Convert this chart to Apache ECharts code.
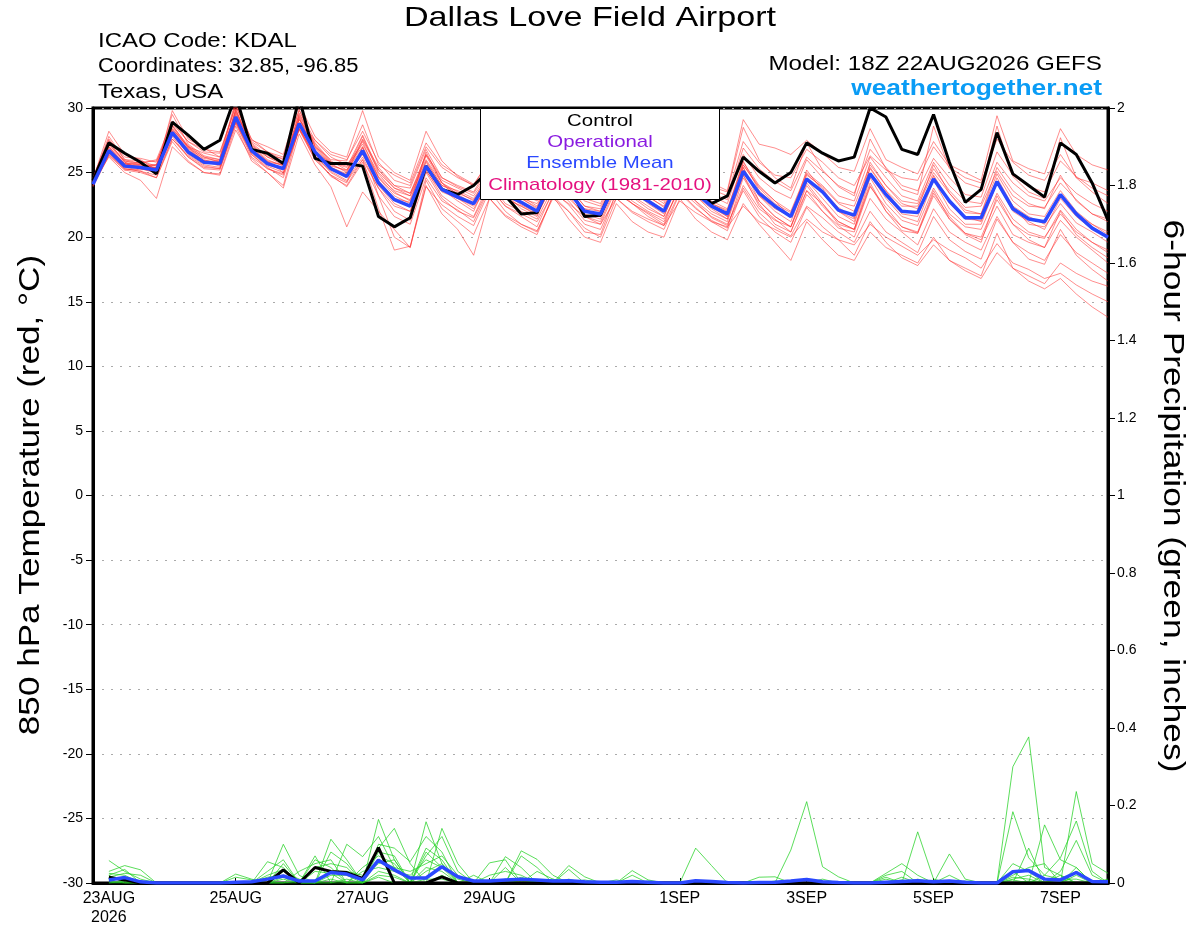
<!DOCTYPE html>
<html>
<head>
<meta charset="utf-8">
<title>Dallas Love Field Airport - GEFS</title>
<script src="https://cdn.jsdelivr.net/npm/echarts@6/dist/echarts.min.js"></script>
<style>
  html, body { margin: 0; padding: 0; background: #fff; }
  #chart { width: 1200px; height: 927px; }
</style>
</head>
<body>
<div id="chart"></div>
<script>
// 65 six-hourly steps, 18Z 22AUG2026 .. 18Z 07SEP2026
const stepCount = 65;
const tickIndex = [1, 9, 17, 25, 37, 45, 53, 61];
const tickText = ["23AUG\n2026", "25AUG", "27AUG", "29AUG", "1SEP", "3SEP", "5SEP", "7SEP"];

// 850 hPa temperature, deg C
const tempControl = [24.4,
  27.3, 26.5, 25.8, 24.9, 28.9, 27.9, 26.8, 27.5, 31.0, 26.8, 26.5, 25.7, 30.8, 26.1, 25.7, 25.7,
  25.5, 21.6, 20.8, 21.5, 25.5, 23.7, 23.3, 24.0, 25.2, 23.2, 21.8, 21.9, 24.8, 24.0, 21.6, 21.7,
  24.6, 23.4, 23.2, 23.4, 25.0, 23.8, 22.6, 23.2, 26.2, 25.1, 24.2, 25.0, 27.3, 26.5, 25.9, 26.2,
  30.0, 29.3, 26.8, 26.4, 29.5, 25.8, 22.7, 23.7, 28.1, 24.9, 24.0, 23.1, 27.3, 26.4, 24.2, 21.3];
const tempMean = [24.1,
  26.7, 25.5, 25.4, 25.2, 28.1, 26.6, 25.8, 25.7, 29.3, 26.7, 25.7, 25.3, 28.8, 26.6, 25.3, 24.7,
  26.7, 24.2, 22.9, 22.4, 25.5, 23.7, 23.1, 22.6, 24.6, 23.3, 22.7, 22.0, 24.5, 23.5, 22.0, 21.8,
  24.3, 23.5, 22.8, 22.0, 24.5, 23.4, 22.4, 21.8, 25.1, 23.4, 22.4, 21.6, 24.5, 23.5, 22.1, 21.7,
  24.9, 23.3, 22.0, 21.9, 24.5, 22.8, 21.5, 21.5, 24.3, 22.2, 21.4, 21.2, 23.3, 21.8, 20.7, 20.0];

const tempM01 = [24.5,
  27.8, 26.0, 25.9, 25.5, 29.5, 27.2, 26.3, 26.0, 30.4, 27.1, 26.2, 25.6, 29.6, 27.3, 25.9, 25.2,
  27.8, 25.0, 23.8, 23.4, 26.4, 24.6, 24.0, 23.5, 25.6, 24.3, 23.5, 22.9, 25.4, 24.4, 23.0, 22.6,
  25.2, 24.2, 23.6, 23.0, 25.6, 24.5, 23.4, 22.9, 26.9, 25.3, 24.3, 23.6, 26.2, 25.1, 24.0, 23.4,
  26.8, 25.4, 24.0, 23.6, 26.1, 24.6, 23.3, 23.1, 26.6, 24.8, 23.9, 23.5, 25.9, 24.7, 23.8, 23.2];
const tempM02 = [24.0,
  26.4, 25.3, 25.1, 24.8, 27.6, 26.2, 25.4, 25.3, 28.9, 26.4, 25.3, 24.9, 28.3, 26.0, 24.8, 23.9,
  25.8, 23.2, 21.6, 21.0, 24.6, 22.8, 22.1, 21.2, 23.8, 22.4, 21.6, 20.8, 23.6, 22.5, 21.0, 20.6,
  23.4, 22.6, 21.6, 20.9, 23.5, 22.3, 21.2, 20.5, 23.8, 21.9, 20.8, 20.1, 22.4, 21.5, 20.4, 19.6,
  22.0, 20.4, 19.6, 18.8, 21.6, 19.8, 18.9, 18.3, 21.4, 19.6, 18.3, 17.9, 20.6, 18.6, 17.5, 16.6];
const tempM03 = [24.3,
  27.0, 25.6, 25.8, 25.9, 28.4, 27.0, 26.5, 26.2, 29.6, 27.4, 26.6, 26.0, 29.1, 27.5, 26.2, 25.6,
  27.2, 24.9, 23.5, 22.8, 25.9, 24.0, 23.6, 23.0, 24.8, 23.6, 23.2, 22.4, 24.9, 23.9, 22.4, 22.2,
  24.8, 23.8, 23.1, 22.4, 24.9, 23.7, 22.8, 22.2, 25.6, 23.9, 22.8, 22.0, 25.0, 24.0, 22.7, 22.4,
  25.6, 24.0, 22.8, 22.6, 25.3, 23.6, 22.3, 22.4, 25.1, 23.2, 22.4, 22.3, 24.2, 22.9, 21.8, 21.2];
const tempM04 = [24.2,
  26.2, 25.0, 24.4, 23.0, 27.0, 25.8, 25.0, 24.9, 28.6, 25.9, 25.0, 23.8, 28.0, 25.6, 23.9, 20.8,
  23.5, 22.0, 20.6, 19.2, 23.9, 22.5, 21.6, 20.9, 23.6, 22.0, 21.0, 20.5, 23.0, 22.0, 20.7, 20.0,
  23.0, 21.9, 21.2, 20.6, 23.4, 22.2, 21.3, 20.7, 24.6, 22.6, 21.0, 20.4, 23.3, 22.0, 20.7, 20.4,
  23.9, 22.3, 20.8, 20.3, 23.2, 21.4, 20.3, 20.0, 22.9, 21.0, 20.2, 19.9, 22.1, 20.6, 19.6, 19.0];
const tempM05 = [24.6,
  27.5, 26.2, 26.1, 25.8, 28.8, 27.4, 26.6, 26.5, 30.2, 27.3, 26.3, 26.1, 29.9, 27.0, 26.0, 25.9,
  28.7, 25.6, 24.8, 24.2, 27.3, 25.6, 24.8, 24.1, 25.9, 24.6, 24.2, 23.7, 26.0, 25.0, 23.6, 23.3,
  25.8, 24.8, 24.1, 23.4, 26.0, 24.9, 24.2, 23.6, 29.1, 27.2, 26.9, 26.4, 27.5, 26.5, 25.4, 25.1,
  28.4, 26.0, 25.4, 24.9, 27.4, 25.6, 25.0, 24.4, 29.4, 25.9, 25.3, 24.9, 28.4, 26.4, 25.6, 25.2];
const tempM06 = [24.0,
  26.6, 25.7, 25.3, 25.0, 28.0, 26.4, 25.6, 25.4, 29.0, 26.5, 25.5, 25.0, 28.4, 26.3, 25.0, 24.3,
  26.0, 23.8, 22.0, 21.3, 25.0, 23.0, 22.0, 21.5, 23.9, 22.4, 21.8, 21.2, 23.4, 22.6, 21.6, 21.0,
  23.0, 22.0, 21.4, 20.9, 22.8, 21.9, 21.2, 20.8, 22.4, 21.2, 20.6, 20.0, 21.4, 20.4, 19.8, 19.4,
  21.0, 20.0, 19.3, 18.6, 19.8, 19.0, 18.4, 17.6, 19.5, 18.0, 17.5, 16.8, 17.2, 16.3, 15.6, 15.0];
const tempM07 = [24.3,
  26.9, 25.7, 25.6, 25.6, 28.3, 26.9, 25.9, 25.9, 29.5, 26.8, 25.8, 25.6, 29.1, 26.9, 25.5, 25.2,
  26.9, 24.6, 23.4, 22.9, 26.3, 24.2, 23.5, 22.8, 25.2, 23.6, 23.0, 22.3, 24.9, 23.8, 22.0, 21.8,
  24.6, 23.6, 22.9, 22.1, 25.1, 23.9, 22.6, 22.1, 25.9, 23.6, 22.5, 21.5, 25.2, 23.6, 22.3, 21.5,
  25.4, 23.6, 22.0, 22.0, 24.7, 22.6, 21.4, 21.3, 24.6, 22.4, 21.0, 20.8, 22.6, 21.1, 20.4, 19.6];
const tempM08 = [23.9,
  26.3, 25.2, 25.0, 24.6, 27.4, 25.9, 25.0, 24.8, 28.3, 26.1, 25.0, 24.0, 28.5, 26.2, 24.7, 24.0,
  26.0, 22.2, 19.0, 19.3, 24.0, 21.8, 20.6, 18.6, 23.0, 21.7, 21.0, 20.4, 23.2, 22.0, 20.4, 20.2,
  23.5, 22.6, 21.8, 21.0, 24.1, 22.8, 21.5, 20.9, 24.0, 22.2, 21.3, 20.8, 23.6, 22.6, 21.0, 20.6,
  24.0, 22.0, 20.5, 20.3, 23.4, 21.6, 20.3, 19.8, 22.4, 20.2, 19.6, 19.2, 21.3, 20.0, 19.0, 18.0];
const tempM09 = [24.5,
  28.2, 26.4, 26.0, 25.2, 29.8, 27.6, 26.9, 26.2, 30.6, 27.5, 27.0, 26.4, 30.3, 27.8, 26.6, 26.2,
  29.8, 26.2, 25.0, 24.4, 28.2, 25.9, 24.7, 24.0, 26.0, 24.6, 24.0, 23.6, 25.9, 24.5, 23.3, 23.0,
  25.6, 24.6, 23.8, 23.4, 26.2, 24.8, 23.9, 23.5, 28.5, 26.0, 24.6, 23.8, 27.3, 25.2, 23.9, 23.2,
  27.6, 25.3, 23.7, 23.3, 28.6, 25.3, 24.2, 23.8, 28.6, 24.7, 23.5, 23.0, 27.7, 24.6, 23.5, 22.6];
const tempM10 = [24.1,
  26.5, 25.4, 25.2, 25.4, 27.9, 26.5, 25.7, 25.8, 29.0, 26.6, 25.7, 25.4, 28.6, 26.4, 25.2, 24.8,
  26.5, 24.4, 23.0, 22.7, 25.1, 23.5, 23.0, 22.6, 24.8, 23.4, 22.5, 21.9, 24.7, 23.6, 22.0, 21.6,
  24.4, 23.4, 22.8, 22.0, 24.5, 23.4, 22.3, 21.6, 25.6, 23.8, 22.6, 21.9, 24.8, 23.9, 22.6, 22.0,
  25.3, 23.6, 22.4, 22.4, 25.0, 23.4, 22.1, 21.8, 24.9, 22.8, 21.8, 21.6, 23.6, 22.0, 21.0, 20.4];
const tempM11 = [24.2,
  26.8, 25.5, 25.6, 25.3, 28.1, 26.7, 25.9, 25.6, 29.3, 26.7, 25.7, 25.3, 28.8, 26.7, 25.4, 24.6,
  26.6, 24.0, 22.6, 22.0, 25.6, 23.7, 22.8, 22.0, 24.7, 23.4, 22.2, 21.6, 24.3, 23.2, 21.6, 21.2,
  24.0, 22.8, 22.0, 21.4, 23.7, 22.6, 21.6, 21.0, 23.6, 21.6, 20.4, 19.6, 22.3, 20.8, 19.8, 18.6,
  21.2, 19.6, 18.4, 17.8, 19.4, 18.2, 17.4, 16.8, 18.8, 17.6, 17.0, 16.4, 18.0, 17.2, 16.6, 16.2];
const tempM12 = [24.4,
  27.1, 25.9, 25.6, 25.4, 28.6, 26.9, 26.1, 25.9, 29.7, 27.0, 25.9, 25.6, 29.2, 27.0, 25.6, 25.1,
  27.5, 25.2, 24.0, 23.4, 26.0, 24.2, 23.3, 22.6, 24.6, 23.0, 22.4, 21.7, 24.7, 23.4, 22.1, 21.6,
  24.8, 23.8, 23.2, 22.3, 25.0, 23.8, 22.5, 21.9, 25.8, 24.0, 22.8, 21.6, 24.9, 23.8, 22.0, 21.4,
  25.8, 24.0, 22.6, 22.2, 25.6, 23.4, 21.9, 21.8, 25.4, 23.6, 22.6, 22.2, 24.8, 22.8, 21.8, 21.4];
const tempM13 = [24.0,
  26.4, 25.2, 25.3, 25.0, 27.8, 26.2, 25.3, 25.2, 28.8, 26.2, 25.3, 24.8, 28.4, 26.0, 24.8, 24.2,
  27.0, 23.2, 20.0, 19.2, 24.4, 22.2, 21.2, 20.2, 23.0, 21.6, 20.8, 20.2, 23.2, 21.4, 20.0, 19.6,
  22.6, 21.2, 20.4, 20.0, 23.0, 21.4, 20.4, 19.8, 22.6, 21.0, 19.6, 18.2, 21.2, 19.8, 18.6, 18.2,
  20.4, 19.2, 18.6, 18.0, 20.0, 18.2, 17.6, 17.0, 20.3, 17.6, 16.6, 16.0, 16.8, 15.6, 14.6, 13.8];
const tempM14 = [24.3,
  27.4, 25.8, 25.3, 25.4, 28.4, 27.0, 26.0, 25.6, 29.9, 26.9, 25.9, 25.0, 29.3, 26.5, 25.8, 25.5,
  27.0, 24.7, 23.6, 23.2, 25.8, 24.0, 23.4, 22.9, 24.4, 23.6, 23.0, 22.6, 24.6, 23.2, 22.2, 22.0,
  24.9, 24.0, 23.3, 22.8, 24.8, 23.7, 22.6, 22.0, 25.2, 23.2, 22.0, 21.2, 24.4, 23.0, 21.6, 21.0,
  24.8, 23.0, 21.6, 21.2, 24.4, 22.2, 21.0, 21.0, 24.2, 22.0, 21.2, 20.6, 23.0, 21.6, 20.6, 20.0];
const tempM15 = [24.6,
  27.6, 26.0, 25.7, 26.0, 29.0, 27.4, 26.8, 26.6, 30.1, 27.6, 26.6, 26.2, 29.8, 27.5, 26.4, 26.0,
  28.2, 25.8, 24.4, 24.0, 27.0, 25.4, 24.6, 24.0, 25.4, 24.4, 23.8, 23.0, 25.7, 24.4, 23.4, 23.0,
  25.5, 24.4, 23.8, 23.0, 25.5, 24.6, 23.7, 23.2, 27.4, 25.8, 24.8, 24.6, 26.8, 25.8, 24.6, 24.0,
  26.3, 25.2, 24.6, 24.4, 27.0, 25.4, 24.6, 24.2, 27.6, 25.8, 24.8, 24.4, 26.4, 24.6, 24.2, 23.6];
const tempM16 = [24.1,
  26.6, 25.3, 25.1, 24.6, 27.6, 26.3, 25.5, 25.3, 28.9, 26.4, 25.4, 24.6, 28.4, 26.2, 25.1, 24.4,
  26.2, 23.8, 22.4, 22.0, 25.2, 23.2, 22.3, 21.6, 24.2, 22.6, 22.0, 21.4, 23.8, 22.8, 21.3, 21.0,
  23.8, 22.6, 21.9, 21.2, 24.0, 22.8, 21.8, 21.2, 24.8, 22.8, 21.6, 20.8, 24.2, 22.6, 21.2, 20.6,
  24.6, 22.6, 21.3, 20.9, 23.8, 21.8, 20.8, 20.6, 23.4, 21.4, 20.4, 20.0, 21.8, 20.4, 19.6, 18.8];
const tempM17 = [24.2,
  27.0, 25.7, 25.4, 25.2, 28.2, 26.8, 25.9, 25.5, 29.4, 26.8, 25.8, 25.3, 28.9, 26.6, 25.4, 24.9,
  27.4, 24.6, 23.2, 22.6, 26.6, 24.2, 23.0, 22.2, 24.2, 23.0, 22.4, 21.8, 24.0, 23.0, 21.8, 21.4,
  24.2, 23.2, 22.4, 21.6, 24.6, 23.2, 22.2, 21.4, 24.8, 22.4, 21.4, 20.4, 23.6, 22.0, 20.9, 20.0,
  23.0, 21.4, 20.4, 19.4, 22.2, 20.4, 19.6, 19.0, 21.6, 19.6, 18.8, 18.2, 20.2, 18.8, 18.0, 17.2];
const tempM18 = [24.4,
  27.2, 25.8, 25.5, 25.6, 28.6, 27.1, 26.2, 25.8, 29.8, 27.1, 26.0, 25.5, 29.4, 27.1, 25.7, 25.0,
  27.6, 25.4, 24.0, 23.8, 26.8, 24.6, 23.9, 23.4, 25.2, 24.0, 23.4, 22.8, 25.2, 24.0, 22.8, 22.4,
  25.0, 24.0, 23.4, 22.6, 25.4, 24.2, 23.2, 22.6, 26.4, 24.6, 23.6, 23.0, 26.0, 24.6, 23.2, 22.8,
  26.2, 24.6, 23.2, 22.8, 25.8, 24.0, 22.8, 22.6, 25.8, 24.2, 23.2, 22.8, 24.6, 23.4, 22.6, 22.0];
const tempM19 = [24.2,
  26.7, 25.5, 25.4, 25.6, 28.2, 26.6, 25.9, 25.8, 29.2, 26.6, 25.6, 25.2, 28.7, 26.5, 25.4, 24.8,
  26.4, 24.2, 23.0, 22.4, 25.4, 23.6, 23.0, 22.4, 24.0, 23.2, 22.6, 22.0, 24.2, 23.4, 22.2, 21.6,
  24.1, 23.1, 22.2, 21.6, 24.4, 23.2, 22.0, 21.4, 25.4, 23.2, 22.2, 21.6, 24.6, 23.4, 22.0, 21.2,
  25.0, 23.2, 21.8, 21.6, 24.8, 22.8, 21.6, 21.2, 24.2, 22.4, 21.6, 21.0, 23.2, 21.8, 21.0, 20.2];
const tempM20 = [24.3,
  27.3, 25.9, 25.7, 25.3, 28.7, 27.0, 26.2, 26.0, 29.9, 27.2, 26.2, 25.8, 29.5, 27.2, 25.8, 25.4,
  27.9, 25.2, 23.8, 23.2, 26.4, 24.4, 23.8, 23.2, 25.0, 23.8, 23.0, 22.2, 24.8, 23.8, 22.4, 22.0,
  24.6, 23.6, 22.6, 21.8, 24.7, 23.4, 22.4, 21.6, 25.4, 22.8, 21.6, 20.8, 24.0, 22.4, 21.2, 20.6,
  24.2, 22.0, 20.8, 20.4, 23.6, 21.4, 20.2, 19.6, 23.2, 21.0, 19.8, 19.2, 22.0, 20.2, 19.2, 18.4];

// 6-hour precipitation, inches (first step has no accumulation)
const precControl = [null,
  0.015, 0.008, 0, 0, 0, 0, 0, 0, 0, 0, 0, 0.034, 0, 0.04, 0.03, 0.027,
  0.012, 0.091, 0, 0, 0, 0.016, 0, 0, 0, 0, 0, 0, 0, 0, 0, 0,
  0, 0, 0, 0, 0, 0, 0, 0, 0, 0, 0, 0, 0, 0, 0, 0,
  0, 0, 0, 0, 0, 0, 0, 0, 0, 0, 0, 0, 0, 0, 0, 0];
const precMean = [null,
  0.008, 0.014, 0.003, 0, 0, 0, 0, 0, 0.002, 0.003, 0.01, 0.018, 0.005, 0.005, 0.027, 0.023,
  0.008, 0.059, 0.034, 0.013, 0.013, 0.042, 0.016, 0.005, 0.005, 0.008, 0.01, 0.008, 0.005, 0.006, 0.003, 0.002,
  0.002, 0.004, 0.002, 0, 0, 0.006, 0.004, 0.001, 0, 0.001, 0.002, 0.005, 0.009, 0.003, 0.001, 0,
  0, 0.002, 0.004, 0.006, 0.003, 0.005, 0.002, 0, 0, 0.029, 0.032, 0.01, 0.008, 0.027, 0.004, 0.003];

const precM01 = [null,
  0.058, 0.03, 0.01, 0, 0, 0, 0, 0, 0, 0, 0, 0.10, 0.02, 0, 0, 0,
  0, 0.164, 0.06, 0, 0.158, 0.05, 0, 0, 0, 0.068, 0.04, 0, 0, 0, 0, 0,
  0, 0, 0, 0, 0, 0, 0, 0, 0, 0, 0, 0.085, 0.21, 0.042, 0.016, 0,
  0, 0, 0, 0, 0, 0, 0, 0, 0, 0.30, 0.377, 0.04, 0.02, 0, 0, 0];
const precM02 = [null,
  0.03, 0.045, 0.034, 0, 0, 0, 0, 0, 0, 0, 0.055, 0.04, 0, 0, 0.113, 0.06,
  0, 0.09, 0.141, 0.05, 0, 0.141, 0.05, 0, 0, 0, 0.083, 0.061, 0.02, 0, 0, 0,
  0, 0, 0, 0, 0, 0, 0, 0, 0, 0, 0, 0, 0, 0, 0, 0,
  0, 0, 0, 0.132, 0.01, 0, 0, 0, 0, 0, 0, 0, 0, 0.236, 0.05, 0.025];
const precM03 = [null,
  0.02, 0.035, 0, 0, 0, 0, 0, 0, 0, 0, 0, 0, 0, 0.07, 0, 0.10,
  0.068, 0.12, 0.04, 0, 0.09, 0.06, 0, 0, 0.052, 0.06, 0, 0, 0, 0.045, 0.016, 0,
  0, 0, 0, 0, 0, 0, 0, 0, 0, 0, 0, 0, 0, 0, 0, 0,
  0, 0, 0, 0, 0, 0, 0, 0, 0, 0.184, 0.065, 0.02, 0.065, 0.16, 0.03, 0];
const precM04 = [null,
  0.025, 0.02, 0, 0, 0, 0, 0, 0, 0, 0, 0.03, 0.06, 0, 0, 0.08, 0.05,
  0, 0.10, 0.09, 0.055, 0.12, 0.08, 0, 0.02, 0, 0, 0.07, 0.04, 0, 0, 0, 0,
  0, 0.032, 0.008, 0, 0, 0, 0, 0, 0, 0, 0, 0, 0, 0, 0, 0,
  0, 0, 0, 0, 0, 0, 0, 0, 0, 0, 0, 0.15, 0.06, 0.04, 0, 0];
const precM05 = [null,
  0.015, 0.025, 0.02, 0, 0, 0, 0, 0, 0.023, 0.01, 0, 0, 0.03, 0.05, 0.06, 0,
  0, 0.08, 0.07, 0, 0.07, 0.12, 0.03, 0, 0, 0.04, 0, 0, 0, 0.035, 0, 0,
  0, 0, 0, 0, 0, 0.09, 0.045, 0, 0, 0, 0, 0, 0, 0, 0, 0,
  0, 0, 0, 0, 0, 0.075, 0.01, 0, 0, 0, 0.09, 0, 0.03, 0.11, 0.02, 0];
const precM06 = [null,
  0.02, 0, 0, 0, 0, 0, 0, 0, 0, 0, 0, 0.05, 0, 0.06, 0.04, 0,
  0.04, 0.07, 0.05, 0, 0.08, 0.04, 0, 0, 0, 0, 0, 0.03, 0.01, 0, 0, 0,
  0, 0, 0, 0, 0, 0, 0, 0, 0, 0, 0, 0, 0, 0, 0, 0,
  0, 0.025, 0.05, 0.02, 0, 0, 0, 0, 0, 0.05, 0.03, 0, 0, 0.04, 0, 0.01];
const precM07 = [null,
  0.012, 0.015, 0, 0, 0, 0, 0, 0, 0, 0, 0.02, 0.035, 0, 0.04, 0.05, 0.04,
  0, 0.06, 0.04, 0.03, 0.05, 0.07, 0.02, 0, 0, 0, 0, 0, 0, 0, 0, 0,
  0, 0.02, 0, 0, 0, 0, 0, 0, 0, 0.015, 0.016, 0, 0, 0, 0, 0,
  0, 0.02, 0.03, 0, 0, 0, 0, 0, 0, 0.02, 0.04, 0.05, 0, 0.03, 0, 0];
const precM08 = [null,
  0.01, 0.01, 0, 0, 0, 0, 0, 0, 0.015, 0.008, 0, 0.03, 0.01, 0, 0.03, 0.03,
  0.02, 0.05, 0.06, 0, 0.04, 0.03, 0, 0, 0.02, 0.03, 0.02, 0, 0, 0, 0, 0,
  0, 0, 0, 0, 0, 0, 0, 0, 0, 0, 0, 0, 0, 0, 0, 0,
  0, 0.015, 0, 0, 0, 0.02, 0, 0, 0, 0.03, 0, 0.02, 0.01, 0, 0, 0];
const precM09 = [null,
  0, 0, 0, 0, 0, 0, 0, 0, 0, 0, 0.015, 0.02, 0, 0.03, 0.025, 0,
  0.03, 0.04, 0.03, 0.02, 0.06, 0.04, 0.015, 0, 0, 0, 0, 0, 0.01, 0, 0.008, 0,
  0.008, 0, 0, 0, 0, 0.005, 0.005, 0, 0, 0, 0, 0, 0, 0, 0, 0,
  0, 0, 0.015, 0, 0, 0, 0, 0, 0, 0.01, 0.02, 0, 0, 0.02, 0, 0];
const precM10 = [null,
  0.008, 0.012, 0, 0, 0, 0, 0, 0, 0, 0, 0, 0.015, 0, 0, 0.02, 0.02,
  0, 0.03, 0.02, 0, 0.03, 0.05, 0.01, 0, 0, 0, 0.015, 0, 0, 0.01, 0, 0,
  0, 0, 0.005, 0, 0, 0, 0, 0, 0, 0, 0, 0, 0, 0.01, 0, 0,
  0, 0.01, 0, 0.01, 0, 0, 0, 0, 0, 0.015, 0.01, 0, 0.02, 0, 0, 0];
const precM11 = [null,
  0.005, 0, 0, 0, 0, 0, 0, 0, 0, 0, 0, 0.01, 0, 0, 0.01, 0,
  0, 0.02, 0.015, 0, 0, 0.02, 0, 0, 0, 0.01, 0, 0, 0, 0, 0, 0,
  0, 0, 0, 0, 0, 0, 0, 0, 0, 0, 0.005, 0, 0, 0, 0, 0,
  0, 0, 0, 0, 0, 0, 0.005, 0, 0, 0, 0.005, 0, 0, 0, 0, 0];
const precM12 = [null,
  0, 0.005, 0, 0, 0, 0, 0, 0, 0, 0, 0, 0, 0.005, 0, 0, 0.01,
  0, 0.015, 0, 0, 0.01, 0.01, 0, 0, 0, 0, 0, 0.008, 0, 0, 0, 0,
  0, 0, 0, 0, 0, 0, 0, 0, 0, 0, 0, 0, 0, 0, 0, 0,
  0, 0, 0.008, 0, 0, 0, 0, 0, 0, 0.008, 0, 0, 0.01, 0.01, 0, 0];

const tempMembers = [tempM01, tempM02, tempM03, tempM04, tempM05, tempM06, tempM07, tempM08, tempM09, tempM10,
  tempM11, tempM12, tempM13, tempM14, tempM15, tempM16, tempM17, tempM18, tempM19, tempM20];
const precMembers = [precM01, precM02, precM03, precM04, precM05, precM06, precM07, precM08, precM09, precM10,
  precM11, precM12];

[tempControl, tempMean, precControl, precMean].concat(tempMembers, precMembers).forEach(function (arr, k) {
  if (arr.length !== stepCount) {
    throw new Error("series #" + k + " has " + arr.length + " values");
  }
});

const steps = [];
for (let i = 0; i < stepCount; i++) {
  steps.push(String(i));
}
function isTick(index) {
  return tickIndex.indexOf(index) >= 0;
}

const fontFamily = "'Liberation Sans', Arial, Helvetica, sans-serif";
// the original plot font is a wide Helvetica, so texts are stretched sideways
const stretch = 1.2;

function label(x, y, text, size, opts) {
  opts = opts || {};
  return {
    type: "text",
    x: x,
    y: y,
    z: opts.z || 50,
    rotation: opts.rotation || 0,
    scaleX: opts.scaleX || stretch,
    style: {
      text: text,
      font: (opts.bold ? "bold " : "") + size + "px " + fontFamily,
      fill: opts.color || "#000",
      textAlign: opts.align || "left",
      align: opts.align || "left",
      textVerticalAlign: "middle",
      verticalAlign: "middle"
    }
  };
}

let series = [];
tempMembers.forEach(function (m, k) {
  series.push({
    name: "temp member " + (k + 1),
    type: "line",
    data: m,
    yAxisIndex: 0,
    showSymbol: false,
    silent: true,
    lineStyle: { color: "rgba(255, 45, 45, 0.6)", width: 0.9 },
    z: 2
  });
});
precMembers.forEach(function (m, k) {
  series.push({
    name: "precip member " + (k + 1),
    type: "line",
    data: m,
    yAxisIndex: 1,
    showSymbol: false,
    silent: true,
    lineStyle: { color: "rgba(40, 210, 40, 0.85)", width: 0.9 },
    z: 2
  });
});
series.push(
  { name: "Control", type: "line", data: tempControl, yAxisIndex: 0, showSymbol: false,
    lineStyle: { color: "#000", width: 3 }, z: 3 },
  { name: "Control precip", type: "line", data: precControl, yAxisIndex: 1, showSymbol: false,
    lineStyle: { color: "#000", width: 3 }, z: 3 },
  { name: "Ensemble Mean", type: "line", data: tempMean, yAxisIndex: 0, showSymbol: false,
    lineStyle: { color: "#2a48ff", width: 3.5 }, z: 4 },
  { name: "Ensemble Mean precip", type: "line", data: precMean, yAxisIndex: 1, showSymbol: false,
    lineStyle: { color: "#2a48ff", width: 3.5 }, z: 4 }
);

const option = {
  animation: false,
  backgroundColor: "#fff",
  textStyle: { fontFamily: fontFamily },
  grid: {
    left: 93, right: 92, top: 108, bottom: 44,
    containLabel: false,
    outerBoundsMode: "none",
    show: true, borderColor: "#000", borderWidth: 3
  },
  xAxis: {
    type: "category",
    data: steps,
    boundaryGap: false,
    axisLine: { onZero: false, lineStyle: { color: "#000", width: 3 } },
    axisTick: { inside: true, length: 5, interval: isTick, lineStyle: { color: "#000", width: 1 } },
    axisLabel: {
      interval: isTick,
      color: "#000",
      fontSize: 16,
      lineHeight: 19,
      margin: 6,
      formatter: function (value) {
        const k = tickIndex.indexOf(Number(value));
        return k >= 0 ? tickText[k] : "";
      }
    },
    splitLine: { show: false }
  },
  yAxis: [
    {
      type: "value",
      min: -30,
      max: 30,
      interval: 5,
      position: "left",
      axisLine: { show: true, lineStyle: { color: "#000", width: 3 } },
      axisTick: { show: true, length: 7, lineStyle: { color: "#000" } },
      axisLabel: { color: "#000", fontSize: 14, margin: 10 },
      splitLine: { show: true, lineStyle: { color: "#aaa", type: [2, 7], width: 1.2 } }
    },
    {
      type: "value",
      min: 0,
      max: 2,
      interval: 0.2,
      position: "right",
      axisLine: { show: true, lineStyle: { color: "#000", width: 3 } },
      axisTick: { show: true, length: 7, lineStyle: { color: "#000" } },
      axisLabel: { color: "#000", fontSize: 14, margin: 9 },
      splitLine: { show: false }
    }
  ],
  graphic: [
    label(590, 18, "Dallas Love Field Airport", 28, { align: "center", scaleX: 1.22 }),
    label(98, 41, "ICAO Code: KDAL", 20),
    label(98, 66, "Coordinates: 32.85, -96.85", 20, { scaleX: 1.1 }),
    label(98, 92, "Texas, USA", 20),
    label(1102, 64, "Model: 18Z 22AUG2026 GEFS", 20, { align: "right", scaleX: 1.21 }),
    label(1102, 89, "weathertogether.net", 22, { align: "right", bold: true, color: "#0a9cf5", scaleX: 1.2 }),
    label(31, 495, "850 hPa Temperature (red, \u00B0C)", 30, { align: "center", rotation: Math.PI / 2, scaleX: 1.17 }),
    label(1172, 496, "6-hour Precipitation (green, inches)", 30, { align: "center", rotation: -Math.PI / 2, scaleX: 1.18 }),
    { type: "rect", z: 100, shape: { x: 480.5, y: 108.5, width: 239, height: 91 },
      style: { fill: "#fff", stroke: "#000", lineWidth: 1 } },
    label(600, 121, "Control", 17, { align: "center", z: 101 }),
    label(600, 142, "Operational", 17, { align: "center", z: 101, color: "#8a1be0" }),
    label(600, 163, "Ensemble Mean", 17, { align: "center", z: 101, color: "#2a48ff" }),
    label(600, 185, "Climatology (1981-2010)", 17, { align: "center", z: 101, color: "#e5117f" })
  ],
  series: series
};

const myChart = echarts.init(document.getElementById("chart"));
myChart.setOption(option);
</script>
</body>
</html>
